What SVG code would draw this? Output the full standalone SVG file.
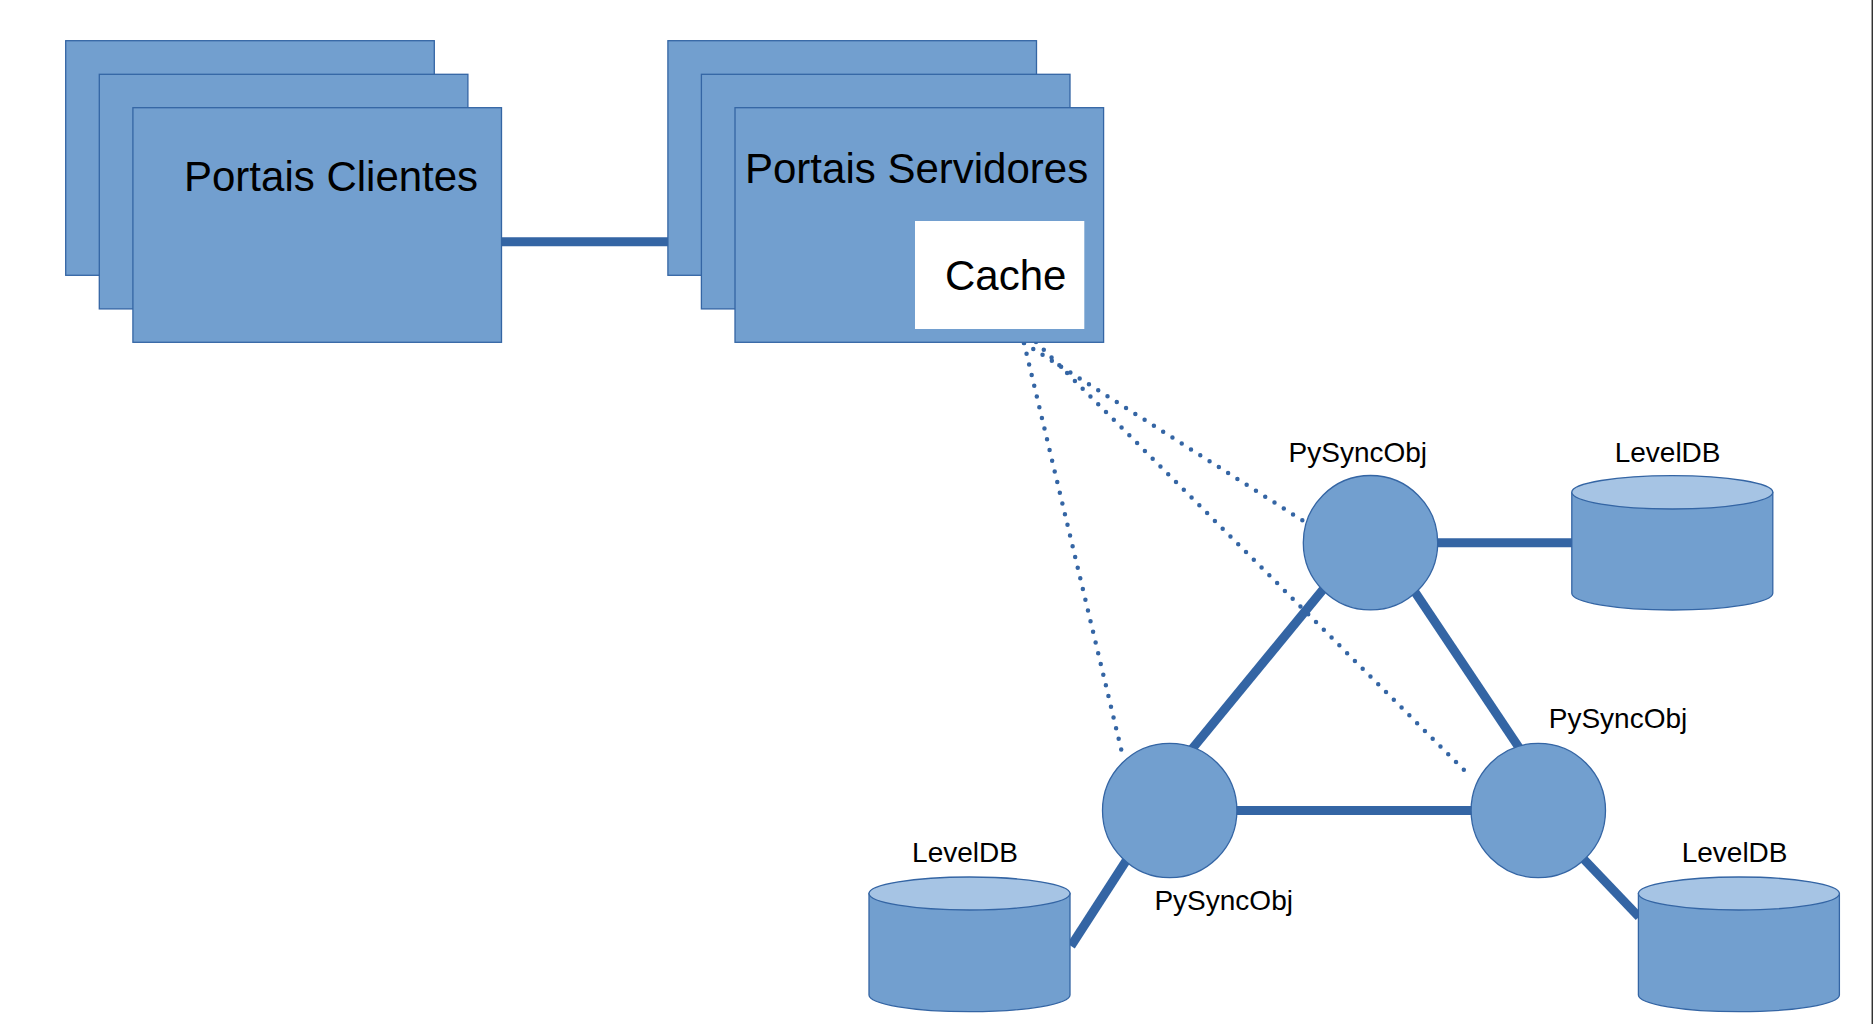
<svg xmlns="http://www.w3.org/2000/svg" width="1873" height="1024" viewBox="0 0 1873 1024">
<style>
.box{fill:#729fcf;stroke:#3465a4;stroke-width:1.3}
.cache{fill:#ffffff;stroke:none}
.big{font-family:"Liberation Sans",Arial,sans-serif;font-size:42px;fill:#000}
.lbl{font-family:"Liberation Sans",Arial,sans-serif;font-size:28px;fill:#000;text-anchor:middle}
.link{stroke:#3465a4;stroke-width:9;fill:none}
.dot{stroke:#3465a4;stroke-width:4.5;stroke-linecap:round;stroke-dasharray:0 11;fill:none}
.node{fill:#729fcf;stroke:#3465a4;stroke-width:1.3}
.cyltop{fill:#a6c4e4;stroke:#3465a4;stroke-width:1.3}
</style>
<rect x="0" y="0" width="1873" height="1024" fill="#ffffff"/>
<line x1="1872.3" y1="0" x2="1872.3" y2="1024" stroke="#333333" stroke-width="1.5"/>

<g id="connectors">
  <line class="link" x1="500" y1="241.7" x2="668" y2="241.7" stroke-width="10"/>
  <line class="link" x1="1430" y1="542.7" x2="1573" y2="542.7"/>
  <line class="link" x1="1230" y1="810.5" x2="1478" y2="810.5"/>
  <line class="link" x1="1340.6" y1="568.2" x2="1181.5" y2="761.8"/>
  <line class="link" x1="1404.6" y1="576.5" x2="1524" y2="755"/>
  <line class="link" x1="1135" y1="847" x2="1071" y2="946"/>
  <line class="link" x1="1575" y1="850" x2="1639" y2="917"/>
  <line class="dot" x1="1024" y1="343" x2="1123" y2="757"/>
  <line class="dot" x1="1036" y1="342" x2="1465" y2="771"/>
  <line class="dot" x1="1024" y1="343" x2="1305" y2="522"/>
</g>

<g id="portais-clientes">
  <rect class="box" x="65.7" y="40.7" width="368.6" height="234.6"/>
  <rect class="box" x="99.3" y="74.3" width="368.6" height="234.6"/>
  <rect class="box" x="132.9" y="107.7" width="368.6" height="234.6"/>
  <text class="big" x="184" y="190.7">Portais Clientes</text>
</g>

<g id="portais-servidores">
  <rect class="box" x="667.9" y="40.7" width="368.6" height="234.6"/>
  <rect class="box" x="701.4" y="74.3" width="368.6" height="234.6"/>
  <rect class="box" x="735" y="107.7" width="368.6" height="234.6"/>
  <text class="big" x="745" y="183.3">Portais Servidores</text>
</g>

<g id="cache">
  <rect class="cache" x="915" y="221" width="169.3" height="108"/>
  <text class="big" x="945" y="290">Cache</text>
</g>

<g id="pysync-top">
  <circle class="node" cx="1370.5" cy="542.7" r="67.2"/>
  <text class="lbl" x="1357.8" y="461.7">PySyncObj</text>
</g>
<g id="pysync-left">
  <circle class="node" cx="1169.7" cy="810.5" r="67.2"/>
  <text class="lbl" x="1223.7" y="910">PySyncObj</text>
</g>
<g id="pysync-right">
  <circle class="node" cx="1538.3" cy="810.5" r="67.2"/>
  <text class="lbl" x="1618" y="728.3">PySyncObj</text>
</g>

<g id="leveldb-top">
  <path class="node" d="M1571.8,492.3 V593.3 A100.5,16.7 0 0 0 1772.8,593.3 V492.3 Z"/>
  <ellipse class="cyltop" cx="1672.3" cy="492.3" rx="100.5" ry="16.7"/>
  <text class="lbl" x="1667.6" y="461.7">LevelDB</text>
</g>
<g id="leveldb-left">
  <path class="node" d="M869,893.5 V995 A100.5,16.7 0 0 0 1070,995 V893.5 Z"/>
  <ellipse class="cyltop" cx="969.5" cy="893.5" rx="100.5" ry="16.5"/>
  <text class="lbl" x="965" y="861.7">LevelDB</text>
</g>
<g id="leveldb-right">
  <path class="node" d="M1638.4,893.5 V995 A100.5,16.7 0 0 0 1839.4,995 V893.5 Z"/>
  <ellipse class="cyltop" cx="1738.9" cy="893.5" rx="100.5" ry="16.5"/>
  <text class="lbl" x="1734.6" y="861.7">LevelDB</text>
</g>
</svg>
